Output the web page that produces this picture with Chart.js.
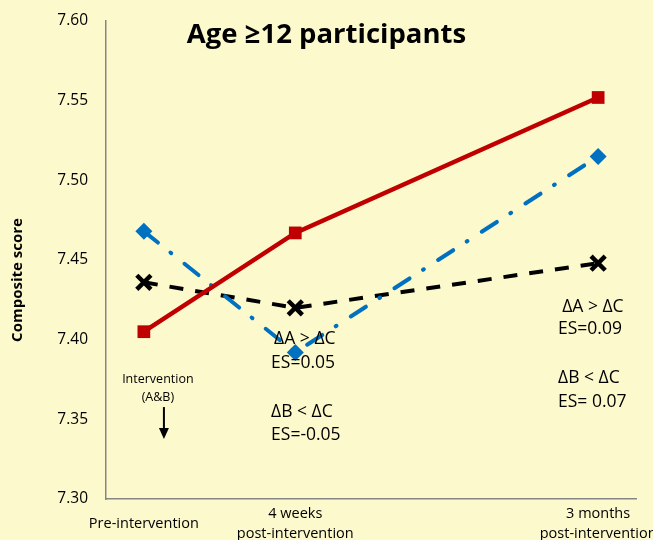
<!DOCTYPE html>
<html>
<head>
<meta charset="utf-8">
<script src="https://cdn.jsdelivr.net/npm/chart.js@4/dist/chart.umd.min.js"></script>
<style>
  html, body { margin: 0; padding: 0; background: #FCF9CC; }
  #wrap { width: 653px; height: 540px; position: relative; }
</style>
</head>
<body>
<div id="wrap"><canvas id="c" width="653" height="540"></canvas></div>
<script>
// ---- Data ----
const timeWeeks = [0, 4, 12];
const timeLabels = [["Pre-intervention"], ["4 weeks", "post-intervention"], ["3 months", "post-intervention"]];
const groupA = [7.405, 7.467, 7.552];   // red squares
const groupB = [7.468, 7.392, 7.515];   // blue diamonds
const groupC = [7.436, 7.420, 7.448];   // black crosses
const yTicks = [7.30, 7.35, 7.40, 7.45, 7.50, 7.55, 7.60];
const chartTitle = "Age \u226512 participants";
const yTitle = "Composite score";
const noteTexts = ["\u0394A > \u0394C", "ES=0.05", "\u0394B < \u0394C", "ES=-0.05",
                   "\u0394A > \u0394C", "ES=0.09", "\u0394B < \u0394C", "ES= 0.07"];
const noteX = [3.44, 3.36, 3.36, 3.36, 11.05, 10.94, 10.94, 10.94];
const noteY = [7.4004, 7.3854, 7.3546, 7.3402, 7.4205, 7.4067, 7.3759, 7.3609];
const interventionLines = ["Intervention", "(A&B)"];
const interventionX = 0.37;
const interventionY = [7.3753, 7.3640];
const arrowX = 0.53;
const arrowY = [7.3577, 7.3377];

const FONT = "'Open Sans', Lato, sans-serif";

const toPts = (vals) => vals.map((v, i) => ({ x: timeWeeks[i], y: v }));

const overlay = {
  id: 'overlay',
  afterDraw(chart) {
    const { ctx, scales: { x, y } } = chart;
    ctx.save();
    // title
    ctx.fillStyle = '#000';
    ctx.font = "bold 27.5px " + FONT;
    ctx.textAlign = 'center';
    ctx.textBaseline = 'middle';
    ctx.fillText(chartTitle, chart.width / 2, 35);
    // y title
    ctx.save();
    ctx.translate(18, 280);
    ctx.rotate(-Math.PI / 2);
    ctx.font = "bold 15px " + FONT;
    ctx.fillText(yTitle, 0, 0);
    ctx.restore();
    // notes
    ctx.font = "17.5px " + FONT;
    ctx.textAlign = 'left';
    noteTexts.forEach((t, i) => ctx.fillText(t, x.getPixelForValue(noteX[i]), y.getPixelForValue(noteY[i])));
    // intervention label
    ctx.font = "12.5px " + FONT;
    ctx.textAlign = 'center';
    interventionLines.forEach((t, i) => ctx.fillText(t, x.getPixelForValue(interventionX), y.getPixelForValue(interventionY[i])));
    // arrow
    const ax = x.getPixelForValue(arrowX);
    const ay0 = y.getPixelForValue(arrowY[0]);
    const ay1 = y.getPixelForValue(arrowY[1]);
    ctx.strokeStyle = '#000';
    ctx.lineWidth = 2;
    ctx.beginPath();
    ctx.moveTo(ax, ay0);
    ctx.lineTo(ax, ay1 - 10);
    ctx.stroke();
    ctx.beginPath();
    ctx.moveTo(ax - 5, ay1 - 11);
    ctx.lineTo(ax + 5, ay1 - 11);
    ctx.lineTo(ax, ay1);
    ctx.closePath();
    ctx.fill();
    ctx.restore();
  }
};

new Chart(document.getElementById('c'), {
  type: 'line',
  data: {
    datasets: [
      {
        label: 'A', data: toPts(groupA),
        borderColor: '#C00000', backgroundColor: '#C00000',
        borderWidth: 4.5, pointStyle: 'rect', pointRadius: 9, pointHoverRadius: 9,
        pointBorderWidth: 0, tension: 0
      },
      {
        label: 'B', data: toPts(groupB),
        borderColor: '#0070C0', backgroundColor: '#0070C0',
        borderWidth: 4, borderDash: [18, 16, 1, 17], borderCapStyle: 'round',
        pointStyle: 'rectRot', pointRadius: 8.5, pointHoverRadius: 8.5,
        pointBorderWidth: 0, tension: 0
      },
      {
        label: 'C', data: toPts(groupC),
        borderColor: '#000000', backgroundColor: '#000000',
        borderWidth: 4, borderDash: [14, 12],
        pointStyle: 'crossRot', pointRadius: 10, pointHoverRadius: 10,
        pointBorderWidth: 4.5, pointBorderColor: '#000000', tension: 0
      }
    ]
  },
  options: {
    responsive: false,
    animation: false,
    events: [],
    layout: { autoPadding: false, padding: { top: 21, right: 17, bottom: 0, left: 0 } },
    plugins: { legend: { display: false }, tooltip: { enabled: false }, title: { display: false } },
    scales: {
      x: {
        type: 'linear', min: -1, max: 13,
        grid: { display: false, drawTicks: false },
        border: { display: true, color: '#868686', width: 1.5 },
        afterBuildTicks: (axis) => { axis.ticks = timeWeeks.map(v => ({ value: v })); },
        afterFit: (axis) => { axis.height = 41; axis.paddingLeft = 0; axis.paddingRight = 0; },
        ticks: {
          autoSkip: false, maxRotation: 0, padding: 15, color: '#000',
          crossAlign: 'center',
          font: { family: FONT, size: 14.5, lineHeight: 1.35 },
          callback: (v) => { const i = timeWeeks.indexOf(v); return i >= 0 ? timeLabels[i] : ''; }
        }
      },
      y: {
        min: 7.30, max: 7.60,
        grid: { display: false, drawTicks: false },
        border: { display: true, color: '#868686', width: 1.5 },
        afterBuildTicks: (axis) => { axis.ticks = yTicks.map(v => ({ value: v })); },
        afterFit: (axis) => { axis.width = 106; axis.paddingTop = 0; axis.paddingBottom = 0; },
        ticks: {
          padding: 18, color: '#000',
          font: { family: FONT, size: 15.5 },
          callback: (v) => Number(v).toFixed(2)
        }
      }
    }
  },
  plugins: [overlay]
});
</script>
</body>
</html>
